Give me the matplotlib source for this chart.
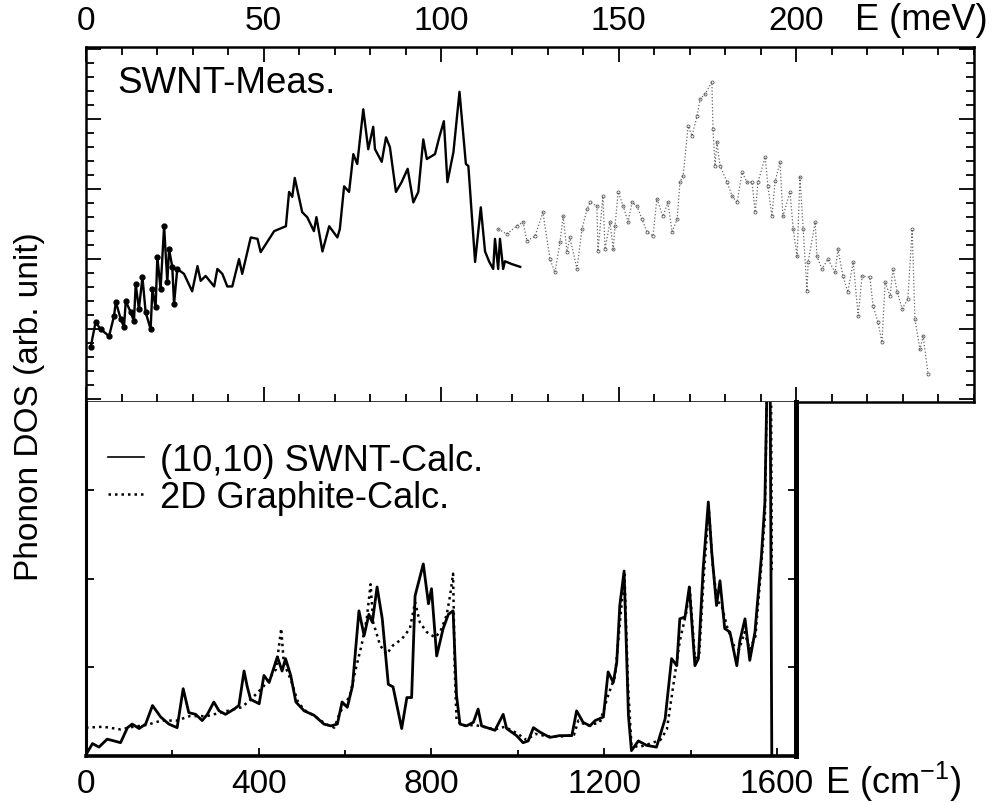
import numpy as np
import matplotlib
matplotlib.use("Agg")
import matplotlib.pyplot as plt
from matplotlib.ticker import MultipleLocator, NullFormatter

plt.rcParams['font.family'] = ['Liberation Sans', 'DejaVu Sans']
plt.rcParams['mathtext.fontset'] = 'custom'
plt.rcParams['mathtext.rm'] = 'Liberation Sans'

# measured SWNT DOS, low energy part (solid), E in meV, DOS in arb. unit
meas_e = [1.3, 2.7, 4.1, 6.5, 7.9, 8.4, 9.8, 10.7, 11.2, 12.6, 13.5, 14.0, 14.9, 15.9,
          16.8, 18.2, 18.7, 19.6, 20.1, 21.0, 22.0, 22.9, 23.4, 24.3, 24.8, 25.7, 27.6,
          29.9, 31.4, 32.3, 33.7, 36.1, 37.0, 38.4, 39.8, 41.2, 43.1, 44.0, 46.4, 48.3,
          49.2, 50.6, 53.0, 56.3, 57.2, 58.1, 58.8, 60.9, 62.3, 64.2, 64.9, 66.6, 68.5,
          70.8, 71.5, 72.7, 74.1, 75.3, 76.4, 78.1, 79.5, 80.9, 81.4, 83.3, 84.5, 85.6,
          87.3, 88.9, 90.6, 92.2, 93.6, 95.0, 96.0, 98.3, 99.5, 100.8, 101.8, 103.5,
          105.2, 107.0, 107.7, 109.6, 111.2, 112.4, 113.6, 114.7, 115.2, 116.1, 116.6,
          117.5, 118.0, 119.9, 122.3]
meas_dos = [0.74, 1.10, 1.00, 0.90, 1.19, 1.39, 1.14, 1.03, 1.40, 1.24, 1.11, 1.64, 1.29, 1.74,
            1.24, 1.00, 1.57, 1.31, 2.03, 1.57, 2.47, 1.67, 2.14, 1.89, 1.36, 1.86, 1.79,
            1.54, 1.90, 1.69, 1.76, 1.61, 1.86, 1.79, 1.61, 1.61, 2.00, 1.79, 2.31, 2.29,
            2.10, 2.21, 2.40, 2.47, 2.96, 2.89, 3.16, 2.67, 2.60, 2.40, 2.60, 2.11, 2.47,
            2.31, 2.43, 3.04, 2.96, 3.50, 3.36, 4.14, 3.57, 3.89, 3.57, 3.39, 3.74, 3.60,
            2.96, 3.10, 3.29, 2.81, 2.96, 3.71, 3.43, 3.50, 3.74, 3.97, 3.10, 3.53,
            4.39, 3.36, 3.33, 1.96, 2.74, 2.11, 1.96, 1.86, 2.29, 1.86, 2.29,
            1.86, 1.97, 1.93, 1.89]

# measured SWNT DOS, high energy part (faint dotted)
meas2_e = [116.1, 118.5, 121.3, 123.1, 124.2, 126.5, 128.7, 130.7, 132.1, 133.5, 134.4,
           135.5, 136.3, 138.3, 139.7, 141.1, 142.0, 143.9, 144.2, 145.6, 146.2, 147.6,
           148.5, 149.0, 149.9, 151.3, 152.7, 153.8, 155.2, 156.6, 158.0, 159.7, 160.8,
           162.5, 163.9, 165.1, 166.5, 167.3, 168.2, 169.6, 170.7, 172.1, 173.0, 174.4,
           176.3, 176.6, 177.2, 177.7, 178.6, 180.6, 182.0, 183.4, 184.8, 186.2, 187.6,
           188.5, 189.3, 191.3, 192.1, 193.2, 194.1, 195.5, 196.3, 198.3, 199.2, 200.3,
           201.1, 202.0, 203.1, 203.4, 205.4, 205.9, 207.3, 209.0, 211.0, 211.8, 213.2,
           214.6, 216.1, 217.5, 218.6, 220.8, 221.7, 223.1, 224.2, 225.1, 226.5, 227.3,
           228.5, 229.9, 231.5, 232.7, 233.5, 234.9, 235.8, 237.2]
meas2_dos = [2.43, 2.36, 2.47, 2.53, 2.26, 2.33, 2.67, 2.00, 1.81, 2.24, 2.61,
             2.10, 2.31, 1.86, 2.43, 2.71, 2.81, 2.76, 2.11, 2.90, 2.14, 2.53,
             2.14, 2.47, 2.96, 2.76, 2.53, 2.81, 2.76, 2.57, 2.39, 2.33, 2.86,
             2.61, 2.81, 2.39, 2.57, 3.10, 3.19, 3.90, 3.76, 4.04, 4.29, 4.36,
             4.53, 3.86, 3.33, 3.67, 3.33, 3.10, 2.90, 2.81, 3.24, 3.10, 3.10,
             2.67, 3.10, 3.46, 3.04, 2.61, 3.11, 3.39, 2.61, 2.96, 2.43, 2.04,
             3.17, 2.43, 1.54, 1.96, 2.53, 2.04, 1.86, 2.00, 1.81, 2.14, 1.76,
             1.53, 1.96, 1.19, 1.76, 1.74, 1.33, 1.10, 0.81, 1.67, 1.47, 1.86,
             1.53, 1.29, 1.43, 2.43, 1.14, 0.71, 0.90, 0.36]

# calculated (10,10) SWNT DOS, E in cm-1
swnt_k = [3, 15, 30, 49, 65, 80, 96, 107, 123, 138, 154, 173, 192, 211, 225, 238, 254, 269,
          281, 296, 308, 323, 343, 354, 366, 373, 381, 401, 412, 424, 443, 454, 462, 474,
          486, 505, 528, 551, 567, 582, 593, 605, 617, 632, 644, 655, 663, 674, 686, 700,
          711, 731, 743, 754, 762, 781, 793, 800, 812, 827, 839, 850, 858, 866, 881, 897,
          908, 916, 947, 966, 974, 997, 1012, 1024, 1036, 1051, 1074, 1097, 1125, 1136,
          1151, 1167, 1179, 1198, 1209, 1221, 1229, 1236, 1246, 1256, 1263, 1279, 1298,
          1321, 1341, 1356, 1368, 1375, 1387, 1397, 1410, 1418, 1429, 1441, 1449, 1460,
          1468, 1479, 1491, 1507, 1514, 1526, 1537, 1549, 1564, 1572, 1578, 1584, 1588]
swnt_dos = [0.04, 0.14, 0.10, 0.19, 0.17, 0.15, 0.32, 0.36, 0.31, 0.36, 0.57, 0.44, 0.36, 0.32,
            0.76, 0.49, 0.47, 0.40, 0.47, 0.61, 0.51, 0.47, 0.53, 0.57, 0.96, 0.79, 0.64,
            0.59, 0.91, 0.83, 1.12, 0.96, 1.10, 0.91, 0.61, 0.51, 0.46, 0.36, 0.34, 0.36,
            0.61, 0.55, 0.79, 1.64, 1.36, 1.60, 1.51, 1.91, 1.55, 0.81, 0.78, 0.31, 0.66,
            0.66, 1.81, 2.17, 1.72, 1.89, 1.13, 1.44, 1.60, 1.64, 0.68, 0.36, 0.34, 0.38,
            0.53, 0.34, 0.29, 0.47, 0.31, 0.23, 0.15, 0.17, 0.32, 0.27, 0.21, 0.23, 0.23,
            0.51, 0.38, 0.34, 0.40, 0.44, 0.95, 0.83, 1.06, 1.70, 2.09, 0.46, 0.06, 0.17,
            0.12, 0.10, 0.42, 1.10, 1.02, 1.55, 1.57, 1.91, 1.02, 1.10, 2.11, 2.87, 2.30,
            1.70, 1.98, 1.44, 1.40, 1.02, 1.30, 1.55, 1.08, 1.40, 2.26, 2.87, 4.50, 4.50, 0.0]

# calculated 2D graphite DOS
graph_k = [0, 40, 80, 110, 140, 175, 210, 240, 280, 320, 360, 380, 410, 440, 452, 458, 475,
           490, 505, 530, 555, 575, 588, 611, 623, 638, 650, 659, 665, 681, 696, 711, 731,
           750, 762, 773, 789, 808, 820, 835, 843, 850, 854, 858, 874, 900, 920, 947, 970,
           1000, 1020, 1040, 1070, 1100, 1130, 1140, 1160, 1190, 1210, 1225, 1238, 1247,
           1255, 1263, 1280, 1300, 1330, 1345, 1360, 1375, 1390, 1398, 1410, 1420, 1430,
           1442, 1452, 1462, 1472, 1485, 1500, 1512, 1525, 1537, 1550, 1563, 1572, 1578,
           1586, 1588]
graph_dos = [0.32, 0.33, 0.30, 0.33, 0.35, 0.40, 0.40, 0.45, 0.45, 0.50, 0.55, 0.63, 0.78,
             0.98, 1.44, 1.05, 0.85, 0.62, 0.52, 0.45, 0.36, 0.32, 0.49, 0.68, 0.95, 1.25,
             1.55, 1.94, 1.51, 1.25, 1.15, 1.25, 1.32, 1.44, 1.74, 1.51, 1.40, 1.34, 1.40,
             1.59, 1.81, 2.06, 0.95, 0.40, 0.34, 0.35, 0.33, 0.30, 0.33, 0.25, 0.18, 0.25,
             0.22, 0.22, 0.24, 0.40, 0.34, 0.38, 0.70, 0.90, 1.60, 2.05, 0.80, 0.12, 0.10,
             0.13, 0.18, 0.30, 0.80, 1.30, 1.62, 1.90, 1.10, 1.15, 2.00, 2.80, 2.10, 1.75,
             1.70, 1.45, 1.25, 1.20, 1.40, 1.20, 1.35, 2.10, 2.70, 4.50, 4.50, 2.10]

top_ticks = [0, 50, 100, 150, 200]
bot_ticks = [0, 400, 800, 1200, 1600]

fig = plt.figure(figsize=(9.92, 8.04), dpi=100)
ax1 = fig.add_axes([0.0867, 0.4988, 0.8947, 0.4415])
ax2 = fig.add_axes([0.0867, 0.0585, 0.7157, 0.4403])

# top panel: measurement
me = np.array(meas_e)
md = np.array(meas_dos)
ax1.plot(me, md, color='black', lw=1.7)
low = me < 27
ax1.plot(me[low], md[low], 'o', color='black', ms=3.5)
ax1.plot(meas2_e, meas2_dos, color='0.4', lw=0.9, ls=':', marker='o', ms=2.2,
         mfc='none', mec='0.35', mew=0.6)
ax1.set_xlim(0, 250)
ax1.set_ylim(-0.04, 5.03)
ax1.set_xticks(top_ticks)
ax1.xaxis.set_minor_locator(MultipleLocator(10))
ax1.yaxis.set_major_locator(MultipleLocator(1))
ax1.yaxis.set_minor_locator(MultipleLocator(0.2))
ax1.yaxis.set_major_formatter(NullFormatter())
ax1.tick_params(which='both', direction='in', top=True, bottom=True, left=True, right=True,
                labeltop=True, labelbottom=False, width=1.3, labelsize=24)
ax1.tick_params(which='major', length=11, pad=8)
ax1.tick_params(which='minor', length=6)
for sp in ax1.spines.values():
    sp.set_linewidth(1.8)
ax1.text(0.035, 0.90, 'SWNT-Meas.', transform=ax1.transAxes, fontsize=26.5, va='center')

# bottom panel: calculation
ax2.plot(swnt_k, swnt_dos, color='black', lw=2.0, label='(10,10) SWNT-Calc.')
ax2.plot(graph_k, graph_dos, color='black', lw=1.8, ls=(0, (1, 1.6)),
         label='2D Graphite-Calc.')
ax2.set_xlim(0, 1644)
ax2.set_ylim(0, 4)
ax2.set_xticks(bot_ticks)
ax2.xaxis.set_minor_locator(MultipleLocator(200))
ax2.set_yticks([1, 2, 3])
ax2.yaxis.set_major_formatter(NullFormatter())
ax2.tick_params(which='both', direction='in', top=False, left=True, right=True, width=1.3,
                labelsize=24)
ax2.tick_params(which='major', length=6, pad=9)
ax2.tick_params(which='minor', length=4)
ax2.spines['top'].set_visible(False)
ax2.spines['left'].set_linewidth(2.2)
ax2.spines['bottom'].set_linewidth(2.6)
ax2.spines['right'].set_linewidth(3.6)
leg = ax2.legend(loc='upper left', bbox_to_anchor=(0.0, 0.945), frameon=False,
                 fontsize=26, handlelength=1.0, handletextpad=0.45, labelspacing=0.05,
                 borderaxespad=0.2)
leg.get_lines()[0].set_linewidth(1.2)

fig.text(0.862, 0.974, 'E (meV)', fontsize=26, va='center')
fig.text(0.832, 0.027, r'E (cm$^{\mathregular{-1}}$)', fontsize=26, va='center')
fig.text(0.030, 0.494, 'Phonon DOS (arb. unit)', fontsize=24, rotation=90,
         ha='center', va='center')

fig.savefig('out.png', dpi=100)
